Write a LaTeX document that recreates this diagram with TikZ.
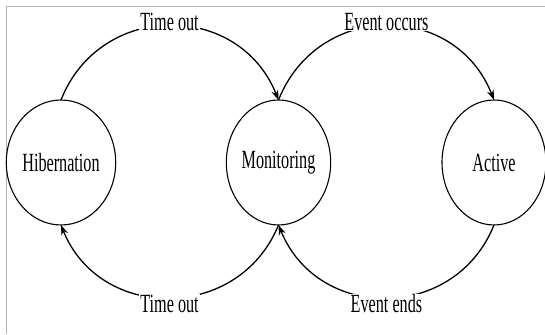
\documentclass[tikz,border=0pt]{standalone}
\usepackage{fontspec}
\setmainfont{Liberation Serif}
\usetikzlibrary{shapes.geometric,arrows.meta}

\newcommand{\tall}[1]{\scalebox{1}[1.62]{#1}}

\tikzset{
    state/.style={draw, ellipse, line width=1.1pt, minimum width=104pt, minimum height=125pt, inner sep=0pt, outer sep=0pt},
    move/.style={line width=1.3pt, -{Stealth[length=10pt,width=7pt]}},
    tag/.style={fill=white, inner sep=1pt}
}

\begin{document}
\begin{tikzpicture}[x=1pt, y=1pt, font=\fontsize{16.2}{19}\selectfont]

    \useasboundingbox (0,0) rectangle (545,334);

    % frame of the page
    \draw [gray!60, line width=0.7pt] (6,0) -- (6,328) -- (545,328);

    \node [state] (hib) at (61,171.5) {\tall{Hibernation}};
    \node [state] (mon) at (278.5,171.5) {\tall{Monitoring}};
    \node [state] (act) at (494,171.5) {\tall{Active}};

    % upper arcs
    \draw [move] (hib.north) .. controls (100,333) and (239,333) .. (mon.north)
        node [tag, pos=0.5, yshift=4pt] (t1) {\tall{Time out}};
    \draw [move] (mon.north) .. controls (318,333) and (455,333) .. (act.north)
        node [tag, pos=0.5, yshift=4pt] (t2) {\tall{Event occurs}};

    % lower arcs
    \draw [move] (mon.south) .. controls (239,12) and (100,12) .. (hib.south)
        node [tag, pos=0.5, yshift=-6pt] (t3) {\tall{Time out}};
    \draw [move] (act.south) .. controls (455,12) and (318,12) .. (mon.south)
        node [tag, pos=0.5, yshift=-6pt] (t4) {\tall{Event ends}};

\end{tikzpicture}
\end{document}
